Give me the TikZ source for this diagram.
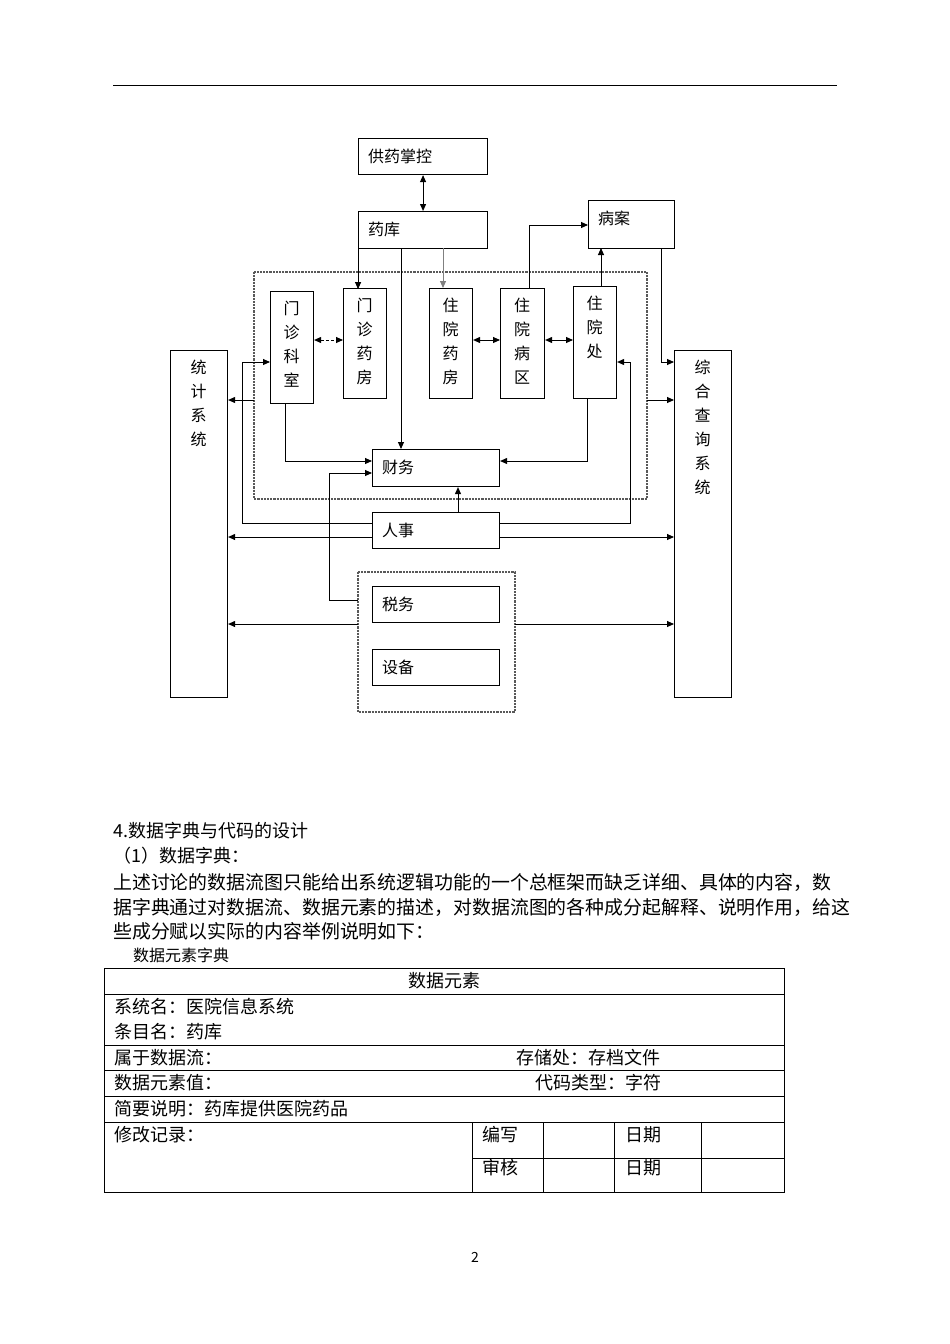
\documentclass[tikz,border=0pt]{standalone}
\usepackage{fontspec}
\setmainfont{Noto Sans CJK SC}
\usetikzlibrary{arrows.meta}
\begin{document}
\begin{tikzpicture}[x=1pt,y=-1pt,
 bx/.style={draw,line width=1.1pt,inner sep=0pt,font=\fontsize{16}{16}\selectfont},
 ln/.style={line width=0.9pt},
 ar/.style={ln,-{Triangle[length=7pt,width=6pt]}},
 ba/.style={ln,{Triangle[length=7pt,width=6pt]}-{Triangle[length=7pt,width=6pt]}},
 vt/.style={font=\fontsize{16}{24}\selectfont,align=center,inner sep=0pt},
 dot/.style={draw,densely dotted,line width=2.2pt,gray!70!black},
 tx/.style={font=\fontsize{18}{18}\selectfont,inner sep=0pt,anchor=west}]
\useasboundingbox (0,0) rectangle (950,1344);
\draw[line width=1pt] (113,85) -- (837,85);
% boxes
\newcommand{\bb}[6]{\node[bx,minimum width=#4-#2,minimum height=#5-#3,anchor=north west] (#1) at (#2,#3) {};\node[anchor=west,inner sep=0pt,font=\fontsize{16}{16}\selectfont] at (#2+10,#3*0.5+#5*0.5) {#6};}
\newcommand{\vb}[6]{\node[bx,minimum width=#4-#2,minimum height=#5-#3,anchor=north west] (#1) at (#2,#3) {};\node[vt,anchor=north] at (#2*0.5+#4*0.5,#3+10) {#6};}
\draw[dot] (254,272) rectangle (647,499);
\draw[dot] (358,572) rectangle (515,712);
\bb{gy}{358}{138}{487}{174}{供药掌控}
\bb{yk}{358}{211}{487}{248}{药库}
\node[bx,minimum width=86,minimum height=48,anchor=north west] (ba) at (588,200) {};
\node[anchor=west,inner sep=0pt,font=\fontsize{16}{16}\selectfont] at (598,218) {病案};
\vb{mk}{270}{291}{313}{403}{门\\诊\\科\\室}
\vb{mf}{343}{288}{386}{398}{门\\诊\\药\\房}
\vb{zf}{429}{288}{472}{398}{住\\院\\药\\房}
\vb{zb}{500}{288}{544}{398}{住\\院\\病\\区}
\vb{zc}{573}{286}{616}{398}{住\\院\\处}
\vb{tj}{170}{350}{227}{697}{统\\计\\系\\统}
\vb{zh}{674}{350}{731}{697}{综\\合\\查\\询\\系\\统}
\bb{cw}{372}{449}{499}{486}{财务}
\bb{rs}{372}{512}{499}{548}{人事}
\bb{sw}{372}{586}{499}{622}{税务}
\bb{sb}{372}{649}{499}{685}{设备}
\coordinate (d1L) at (254,400); \coordinate (d1R) at (647,400);
\coordinate (d2L) at (358,624); \coordinate (d2R) at (515,624);
\coordinate (d2s) at (358,600);
% connectors
\draw[ba] (gy) -- (yk);
\draw[ar] (yk.south -| mf.north) ++(-7,0) -- ++(0,40);
\draw[ar,gray] (443,248) -- (zf.north -| 443,0);
\draw[ar] (401,248) -- (401,449);
\draw[ba,densely dashed] (mk.east |- 0,340) -- (mf.west |- 0,340);
\draw[ba] (zf.east |- 0,340) -- (zb.west |- 0,340);
\draw[ba] (zb.east |- 0,340) -- (zc.west |- 0,340);
\draw[ar] (529,288) |- (ba.west |- 0,225);
\draw[ar] (601,286) -- (601,248);
\draw[ar] (661,248) |- (zh.west |- 0,362);
\draw[ar] (d1R) -- (zh.west |- d1R);
\draw[ar] (d1L) -- (tj.east |- d1L);
\draw[ar] (rs.west |- 0,523) -| (242,362) -- (mk.west |- 0,362);
\draw[ar] (rs.east |- 0,523) -| (630,362) -- (zc.east |- 0,362);
\draw[ar] (285,403) |- (cw.west |- 0,461);
\draw[ar] (587,398) |- (cw.east |- 0,461);
\draw[ar] (d2s) -| (329,473) -- (cw.west |- 0,473);
\draw[ar] (rs.north -| 458,0) -- (cw.south -| 458,0);
\draw[ar] (rs.west |- 0,537) -- (tj.east |- 0,537);
\draw[ar] (rs.east |- 0,537) -- (zh.west |- 0,537);
\draw[ar] (d2L) -- (tj.east |- d2L);
\draw[ar] (d2R) -- (zh.west |- d2R);
% text
\node[tx] (t1) at (113,831) {4.数据字典与代码的设计};
\node[tx] (t2) at (113,856) {（1）数据字典：};
\node[tx,font=\fontsize{18.9}{19}\selectfont] (p1) at (113,882) {上述讨论的数据流图只能给出系统逻辑功能的一个总框架而缺乏详细、具体的内容，数};
\node[tx,font=\fontsize{18.9}{19}\selectfont] (p2) at (113,907) {据字典通过对数据流、数据元素的描述，对数据流图的各种成分起解释、说明作用，给这};
\node[tx,font=\fontsize{18.9}{19}\selectfont] (p3) at (113,931) {些成分赋以实际的内容举例说明如下：};
\node[tx,font=\fontsize{16}{16}\selectfont] (t3) at (133,955) {数据元素字典};
% table
\draw[line width=0.9pt] (104,968) rectangle (784,1192);
\foreach \y in {994,1045,1070,1096,1122} \draw[line width=0.9pt] (104,\y) -- (784,\y);
\draw[line width=0.9pt] (472,1158) -- (784,1158);
\foreach \x in {472,543,614,701} \draw[line width=0.9pt] (\x,1122) -- (\x,1192);
\node[font=\fontsize{18}{18}\selectfont,inner sep=0pt] (h) at (444,981) {数据元素};
\node[tx] at (114,1007) {系统名：医院信息系统};
\node[tx] at (114,1032) {条目名：药库};
\node[tx] at (114,1058) {属于数据流：};
\node[tx] at (516,1058) {存储处：存档文件};
\node[tx] at (114,1083) {数据元素值：};
\node[tx] at (535,1083) {代码类型：字符};
\node[tx] at (114,1109) {简要说明：药库提供医院药品};
\node[tx] at (114,1135) {修改记录：};
\node[tx] at (482,1135) {编写};
\node[tx] at (625,1135) {日期};
\node[tx] at (482,1168) {审核};
\node[tx] at (625,1168) {日期};
\node[font=\fontsize{14}{14}\selectfont,inner sep=0pt] (pg) at (475,1257) {2};
\end{tikzpicture}
\end{document}
